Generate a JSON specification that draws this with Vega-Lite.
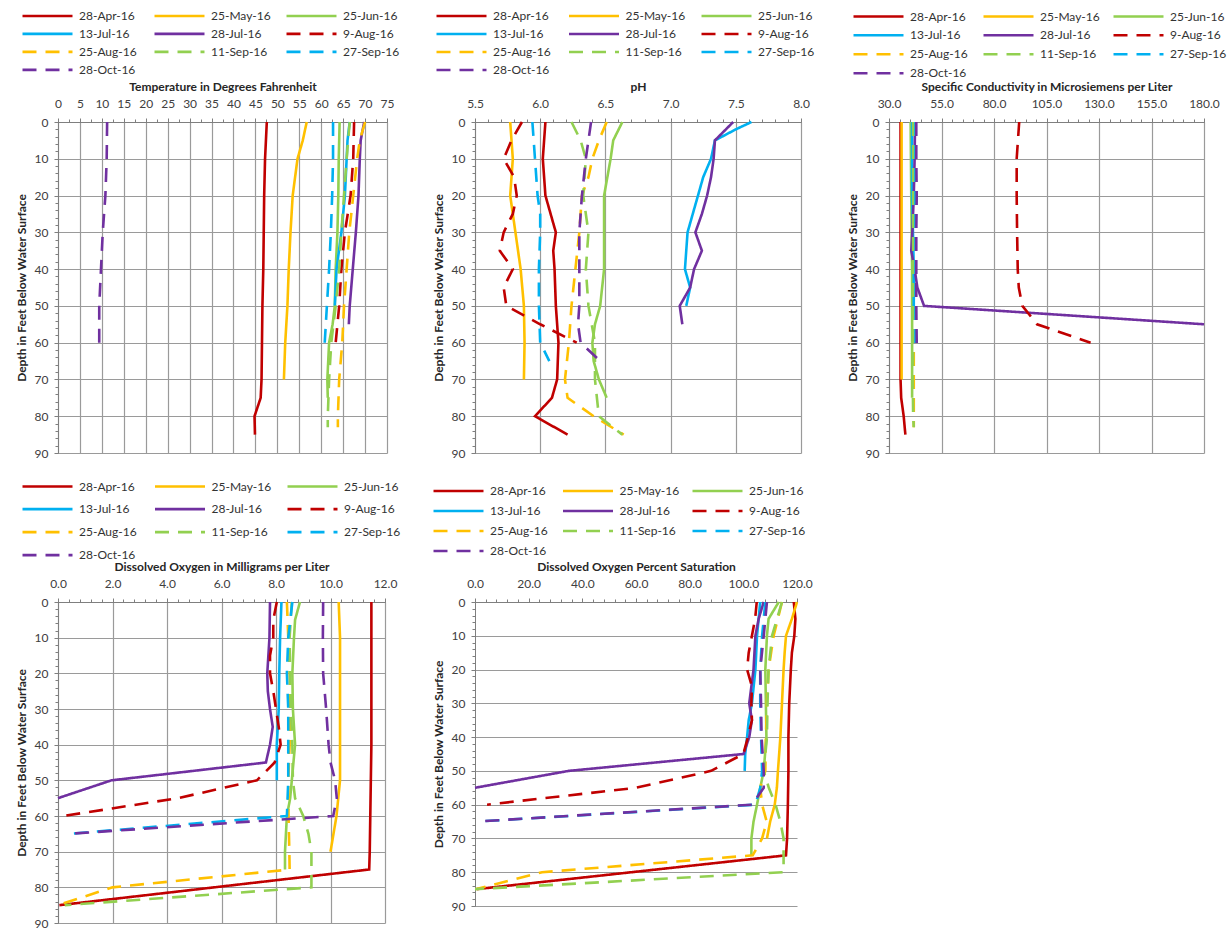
{
"$schema": "https://vega.github.io/schema/vega-lite/v6.json",
"background": "white",
"padding": {"left": 15, "top": 7, "right": 2, "bottom": 2},
"config": {
  "font": "Lato",
  "view": {"stroke": null},
  "axis": {"labelFont": "Lato", "labelFontSize": 12, "labelColor": "#404040", "titleFont": "Lato", "titleFontSize": 12, "titleFontWeight": "bold", "titleColor": "#262626", "gridColor": "#9a9a9a", "gridWidth": 1.2, "domainColor": "#7f7f7f", "tickColor": "#7f7f7f", "tickSize": 4, "grid": true, "labelFlush": false, "labelOverlap": false},
  "axisX": {"labelPadding": 8, "titlePadding": 4},
  "axisY": {"labelPadding": 6, "titlePadding": 6},
  "legend": {"labelFont": "Lato", "labelFontSize": 12, "labelColor": "#333333", "direction": "horizontal"},
  "line": {"strokeWidth": 2.6}
},
"datasets": {
"t": [
{"d":"28-Apr-16","z":0,"v":47.6},{"d":"28-Apr-16","z":10,"v":47.2},{"d":"28-Apr-16","z":20,"v":47.0},{"d":"28-Apr-16","z":30,"v":46.9},{"d":"28-Apr-16","z":40,"v":46.8},{"d":"28-Apr-16","z":50,"v":46.6},{"d":"28-Apr-16","z":60,"v":46.5},{"d":"28-Apr-16","z":70,"v":46.4},{"d":"28-Apr-16","z":75,"v":46.2},{"d":"28-Apr-16","z":80,"v":44.8},{"d":"28-Apr-16","z":85,"v":44.9},
{"d":"25-May-16","z":0,"v":56.7},{"d":"25-May-16","z":5,"v":55.8},{"d":"25-May-16","z":10,"v":54.6},{"d":"25-May-16","z":20,"v":53.5},{"d":"25-May-16","z":30,"v":53.0},{"d":"25-May-16","z":40,"v":52.6},{"d":"25-May-16","z":50,"v":52.3},{"d":"25-May-16","z":60,"v":51.8},{"d":"25-May-16","z":70,"v":51.5},
{"d":"25-Jun-16","z":0,"v":64.2},{"d":"25-Jun-16","z":10,"v":64.0},{"d":"25-Jun-16","z":20,"v":63.9},{"d":"25-Jun-16","z":30,"v":63.7},{"d":"25-Jun-16","z":40,"v":63.3},{"d":"25-Jun-16","z":50,"v":63.1},{"d":"25-Jun-16","z":55,"v":62.6},{"d":"25-Jun-16","z":60,"v":61.8},{"d":"25-Jun-16","z":70,"v":61.4},{"d":"25-Jun-16","z":75,"v":61.5},
{"d":"13-Jul-16","z":0,"v":66.5},{"d":"13-Jul-16","z":5,"v":66.0},{"d":"13-Jul-16","z":10,"v":65.8},{"d":"13-Jul-16","z":20,"v":65.4},{"d":"13-Jul-16","z":30,"v":64.6},{"d":"13-Jul-16","z":40,"v":63.5},{"d":"13-Jul-16","z":50,"v":63.1},
{"d":"28-Jul-16","z":0,"v":69.8},{"d":"28-Jul-16","z":5,"v":69.0},{"d":"28-Jul-16","z":10,"v":68.8},{"d":"28-Jul-16","z":20,"v":68.5},{"d":"28-Jul-16","z":30,"v":67.9},{"d":"28-Jul-16","z":40,"v":67.2},{"d":"28-Jul-16","z":50,"v":66.5},{"d":"28-Jul-16","z":55,"v":66.3},
{"d":"9-Aug-16","z":0,"v":67.5},{"d":"9-Aug-16","z":10,"v":67.3},{"d":"9-Aug-16","z":20,"v":66.7},{"d":"9-Aug-16","z":30,"v":65.4},{"d":"9-Aug-16","z":40,"v":64.6},{"d":"9-Aug-16","z":50,"v":64.1},{"d":"9-Aug-16","z":60,"v":63.3},
{"d":"25-Aug-16","z":0,"v":70.0},{"d":"25-Aug-16","z":5,"v":68.8},{"d":"25-Aug-16","z":10,"v":68.2},{"d":"25-Aug-16","z":20,"v":67.3},{"d":"25-Aug-16","z":30,"v":66.4},{"d":"25-Aug-16","z":40,"v":65.8},{"d":"25-Aug-16","z":50,"v":65.2},{"d":"25-Aug-16","z":60,"v":64.8},{"d":"25-Aug-16","z":70,"v":64.1},{"d":"25-Aug-16","z":80,"v":63.8},{"d":"25-Aug-16","z":83,"v":63.8},
{"d":"11-Sep-16","z":0,"v":66.5},{"d":"11-Sep-16","z":10,"v":65.8},{"d":"11-Sep-16","z":20,"v":65.2},{"d":"11-Sep-16","z":30,"v":64.6},{"d":"11-Sep-16","z":40,"v":64.1},{"d":"11-Sep-16","z":50,"v":63.3},{"d":"11-Sep-16","z":60,"v":62.3},{"d":"11-Sep-16","z":70,"v":61.8},{"d":"11-Sep-16","z":80,"v":61.5},{"d":"11-Sep-16","z":83,"v":61.5},
{"d":"27-Sep-16","z":0,"v":62.7},{"d":"27-Sep-16","z":10,"v":62.7},{"d":"27-Sep-16","z":20,"v":62.5},{"d":"27-Sep-16","z":30,"v":62.2},{"d":"27-Sep-16","z":40,"v":61.8},{"d":"27-Sep-16","z":50,"v":61.3},{"d":"27-Sep-16","z":60,"v":60.8},{"d":"27-Sep-16","z":61,"v":60.8},
{"d":"28-Oct-16","z":0,"v":11.2},{"d":"28-Oct-16","z":10,"v":11.1},{"d":"28-Oct-16","z":20,"v":10.8},{"d":"28-Oct-16","z":30,"v":10.2},{"d":"28-Oct-16","z":40,"v":9.8},{"d":"28-Oct-16","z":50,"v":9.4},{"d":"28-Oct-16","z":60,"v":9.4},{"d":"28-Oct-16","z":61,"v":9.4}
],
"ph": [
{"d":"28-Apr-16","z":0,"v":6.04},{"d":"28-Apr-16","z":10,"v":6.02},{"d":"28-Apr-16","z":20,"v":6.04},{"d":"28-Apr-16","z":25,"v":6.08},{"d":"28-Apr-16","z":30,"v":6.12},{"d":"28-Apr-16","z":35,"v":6.10},{"d":"28-Apr-16","z":40,"v":6.11},{"d":"28-Apr-16","z":50,"v":6.12},{"d":"28-Apr-16","z":60,"v":6.14},{"d":"28-Apr-16","z":70,"v":6.13},{"d":"28-Apr-16","z":75,"v":6.09},{"d":"28-Apr-16","z":80,"v":5.96},{"d":"28-Apr-16","z":85,"v":6.21},
{"d":"25-May-16","z":0,"v":5.77},{"d":"25-May-16","z":10,"v":5.79},{"d":"25-May-16","z":20,"v":5.77},{"d":"25-May-16","z":30,"v":5.81},{"d":"25-May-16","z":40,"v":5.85},{"d":"25-May-16","z":50,"v":5.875},{"d":"25-May-16","z":60,"v":5.88},{"d":"25-May-16","z":70,"v":5.875},
{"d":"25-Jun-16","z":0,"v":6.63},{"d":"25-Jun-16","z":5,"v":6.56},{"d":"25-Jun-16","z":10,"v":6.54},{"d":"25-Jun-16","z":20,"v":6.49},{"d":"25-Jun-16","z":30,"v":6.49},{"d":"25-Jun-16","z":40,"v":6.49},{"d":"25-Jun-16","z":50,"v":6.46},{"d":"25-Jun-16","z":55,"v":6.42},{"d":"25-Jun-16","z":60,"v":6.40},{"d":"25-Jun-16","z":65,"v":6.41},{"d":"25-Jun-16","z":70,"v":6.45},{"d":"25-Jun-16","z":75,"v":6.51},
{"d":"13-Jul-16","z":0,"v":7.62},{"d":"13-Jul-16","z":2,"v":7.50},{"d":"13-Jul-16","z":5,"v":7.34},{"d":"13-Jul-16","z":10,"v":7.31},{"d":"13-Jul-16","z":15,"v":7.25},{"d":"13-Jul-16","z":20,"v":7.21},{"d":"13-Jul-16","z":25,"v":7.17},{"d":"13-Jul-16","z":30,"v":7.13},{"d":"13-Jul-16","z":35,"v":7.12},{"d":"13-Jul-16","z":40,"v":7.11},{"d":"13-Jul-16","z":45,"v":7.15},{"d":"13-Jul-16","z":50,"v":7.12},
{"d":"28-Jul-16","z":0,"v":7.48},{"d":"28-Jul-16","z":5,"v":7.34},{"d":"28-Jul-16","z":10,"v":7.33},{"d":"28-Jul-16","z":15,"v":7.31},{"d":"28-Jul-16","z":20,"v":7.28},{"d":"28-Jul-16","z":25,"v":7.24},{"d":"28-Jul-16","z":30,"v":7.19},{"d":"28-Jul-16","z":35,"v":7.24},{"d":"28-Jul-16","z":40,"v":7.18},{"d":"28-Jul-16","z":45,"v":7.15},{"d":"28-Jul-16","z":50,"v":7.07},{"d":"28-Jul-16","z":55,"v":7.09},
{"d":"9-Aug-16","z":0,"v":5.86},{"d":"9-Aug-16","z":5,"v":5.78},{"d":"9-Aug-16","z":10,"v":5.72},{"d":"9-Aug-16","z":15,"v":5.80},{"d":"9-Aug-16","z":20,"v":5.82},{"d":"9-Aug-16","z":25,"v":5.79},{"d":"9-Aug-16","z":30,"v":5.72},{"d":"9-Aug-16","z":35,"v":5.69},{"d":"9-Aug-16","z":40,"v":5.79},{"d":"9-Aug-16","z":45,"v":5.72},{"d":"9-Aug-16","z":50,"v":5.74},{"d":"9-Aug-16","z":55,"v":6.0},{"d":"9-Aug-16","z":60,"v":6.28},
{"d":"25-Aug-16","z":0,"v":6.51},{"d":"25-Aug-16","z":5,"v":6.45},{"d":"25-Aug-16","z":10,"v":6.40},{"d":"25-Aug-16","z":15,"v":6.37},{"d":"25-Aug-16","z":20,"v":6.32},{"d":"25-Aug-16","z":30,"v":6.30},{"d":"25-Aug-16","z":40,"v":6.27},{"d":"25-Aug-16","z":50,"v":6.24},{"d":"25-Aug-16","z":60,"v":6.22},{"d":"25-Aug-16","z":70,"v":6.19},{"d":"25-Aug-16","z":75,"v":6.21},{"d":"25-Aug-16","z":80,"v":6.41},{"d":"25-Aug-16","z":85,"v":6.64},
{"d":"11-Sep-16","z":0,"v":6.24},{"d":"11-Sep-16","z":5,"v":6.31},{"d":"11-Sep-16","z":10,"v":6.35},{"d":"11-Sep-16","z":20,"v":6.33},{"d":"11-Sep-16","z":30,"v":6.37},{"d":"11-Sep-16","z":40,"v":6.35},{"d":"11-Sep-16","z":50,"v":6.37},{"d":"11-Sep-16","z":60,"v":6.42},{"d":"11-Sep-16","z":70,"v":6.42},{"d":"11-Sep-16","z":80,"v":6.45},{"d":"11-Sep-16","z":85,"v":6.63},
{"d":"27-Sep-16","z":0,"v":5.94},{"d":"27-Sep-16","z":10,"v":5.96},{"d":"27-Sep-16","z":20,"v":5.98},{"d":"27-Sep-16","z":25,"v":6.0},{"d":"27-Sep-16","z":30,"v":6.0},{"d":"27-Sep-16","z":40,"v":5.99},{"d":"27-Sep-16","z":50,"v":5.99},{"d":"27-Sep-16","z":60,"v":6.0},{"d":"27-Sep-16","z":65,"v":6.07},
{"d":"28-Oct-16","z":0,"v":6.39},{"d":"28-Oct-16","z":10,"v":6.35},{"d":"28-Oct-16","z":20,"v":6.32},{"d":"28-Oct-16","z":30,"v":6.30},{"d":"28-Oct-16","z":40,"v":6.30},{"d":"28-Oct-16","z":50,"v":6.30},{"d":"28-Oct-16","z":55,"v":6.29},{"d":"28-Oct-16","z":60,"v":6.31},{"d":"28-Oct-16","z":65,"v":6.46}
],
"sc": [
{"d":"28-Apr-16","z":0,"v":35.5},{"d":"28-Apr-16","z":20,"v":35.5},{"d":"28-Apr-16","z":40,"v":35.5},{"d":"28-Apr-16","z":60,"v":35.5},{"d":"28-Apr-16","z":70,"v":35.5},{"d":"28-Apr-16","z":75,"v":35.8},{"d":"28-Apr-16","z":80,"v":37.0},{"d":"28-Apr-16","z":85,"v":37.8},
{"d":"25-May-16","z":0,"v":36.0},{"d":"25-May-16","z":20,"v":36.0},{"d":"25-May-16","z":40,"v":36.0},{"d":"25-May-16","z":60,"v":36.0},{"d":"25-May-16","z":70,"v":36.0},
{"d":"25-Jun-16","z":0,"v":40.3},{"d":"25-Jun-16","z":20,"v":40.6},{"d":"25-Jun-16","z":40,"v":41.0},{"d":"25-Jun-16","z":60,"v":41.0},{"d":"25-Jun-16","z":75,"v":41.0},
{"d":"13-Jul-16","z":0,"v":41.0},{"d":"13-Jul-16","z":20,"v":41.0},{"d":"13-Jul-16","z":40,"v":41.8},{"d":"13-Jul-16","z":50,"v":41.8},
{"d":"28-Jul-16","z":0,"v":42.4},{"d":"28-Jul-16","z":10,"v":42.2},{"d":"28-Jul-16","z":20,"v":41.8},{"d":"28-Jul-16","z":30,"v":41.1},{"d":"28-Jul-16","z":35,"v":40.6},{"d":"28-Jul-16","z":40,"v":42.2},{"d":"28-Jul-16","z":45,"v":43.5},{"d":"28-Jul-16","z":50,"v":46.7},{"d":"28-Jul-16","z":55,"v":180.0},
{"d":"9-Aug-16","z":0,"v":92.0},{"d":"9-Aug-16","z":10,"v":90.8},{"d":"9-Aug-16","z":20,"v":90.8},{"d":"9-Aug-16","z":30,"v":91.0},{"d":"9-Aug-16","z":40,"v":91.3},{"d":"9-Aug-16","z":45,"v":91.8},{"d":"9-Aug-16","z":50,"v":93.5},{"d":"9-Aug-16","z":55,"v":100.5},{"d":"9-Aug-16","z":60,"v":126.0},
{"d":"25-Aug-16","z":0,"v":41.8},{"d":"25-Aug-16","z":20,"v":41.8},{"d":"25-Aug-16","z":40,"v":41.8},{"d":"25-Aug-16","z":60,"v":41.8},{"d":"25-Aug-16","z":83,"v":41.8},
{"d":"11-Sep-16","z":0,"v":41.5},{"d":"11-Sep-16","z":20,"v":41.5},{"d":"11-Sep-16","z":40,"v":41.5},{"d":"11-Sep-16","z":60,"v":41.5},{"d":"11-Sep-16","z":70,"v":41.3},{"d":"11-Sep-16","z":80,"v":41.5},{"d":"11-Sep-16","z":83,"v":41.8},
{"d":"27-Sep-16","z":0,"v":42.6},{"d":"27-Sep-16","z":20,"v":42.6},{"d":"27-Sep-16","z":40,"v":42.6},{"d":"27-Sep-16","z":60,"v":42.6},{"d":"27-Sep-16","z":61,"v":42.6},
{"d":"28-Oct-16","z":0,"v":43.0},{"d":"28-Oct-16","z":10,"v":43.0},{"d":"28-Oct-16","z":20,"v":43.2},{"d":"28-Oct-16","z":30,"v":43.0},{"d":"28-Oct-16","z":40,"v":43.0},{"d":"28-Oct-16","z":50,"v":43.0},{"d":"28-Oct-16","z":60,"v":43.2},{"d":"28-Oct-16","z":61,"v":43.2}
],
"dom": [
{"d":"28-Apr-16","z":0,"v":11.5},{"d":"28-Apr-16","z":10,"v":11.5},{"d":"28-Apr-16","z":20,"v":11.5},{"d":"28-Apr-16","z":30,"v":11.5},{"d":"28-Apr-16","z":40,"v":11.5},{"d":"28-Apr-16","z":50,"v":11.48},{"d":"28-Apr-16","z":60,"v":11.46},{"d":"28-Apr-16","z":70,"v":11.44},{"d":"28-Apr-16","z":75,"v":11.42},{"d":"28-Apr-16","z":85,"v":0.05},
{"d":"25-May-16","z":0,"v":10.3},{"d":"25-May-16","z":10,"v":10.35},{"d":"25-May-16","z":20,"v":10.35},{"d":"25-May-16","z":30,"v":10.35},{"d":"25-May-16","z":40,"v":10.35},{"d":"25-May-16","z":50,"v":10.35},{"d":"25-May-16","z":60,"v":10.22},{"d":"25-May-16","z":70,"v":10.0},
{"d":"25-Jun-16","z":0,"v":8.88},{"d":"25-Jun-16","z":5,"v":8.7},{"d":"25-Jun-16","z":10,"v":8.66},{"d":"25-Jun-16","z":20,"v":8.6},{"d":"25-Jun-16","z":30,"v":8.62},{"d":"25-Jun-16","z":40,"v":8.7},{"d":"25-Jun-16","z":50,"v":8.58},{"d":"25-Jun-16","z":55,"v":8.52},{"d":"25-Jun-16","z":60,"v":8.4},{"d":"25-Jun-16","z":70,"v":8.33},{"d":"25-Jun-16","z":75,"v":8.33},
{"d":"13-Jul-16","z":0,"v":8.2},{"d":"13-Jul-16","z":10,"v":8.15},{"d":"13-Jul-16","z":20,"v":8.12},{"d":"13-Jul-16","z":30,"v":8.1},{"d":"13-Jul-16","z":40,"v":8.03},{"d":"13-Jul-16","z":50,"v":8.03},
{"d":"28-Jul-16","z":0,"v":7.78},{"d":"28-Jul-16","z":10,"v":7.76},{"d":"28-Jul-16","z":20,"v":7.68},{"d":"28-Jul-16","z":25,"v":7.7},{"d":"28-Jul-16","z":30,"v":7.78},{"d":"28-Jul-16","z":35,"v":7.88},{"d":"28-Jul-16","z":40,"v":7.78},{"d":"28-Jul-16","z":45,"v":7.63},{"d":"28-Jul-16","z":50,"v":1.96},{"d":"28-Jul-16","z":55,"v":0.0},
{"d":"9-Aug-16","z":0,"v":8.03},{"d":"9-Aug-16","z":5,"v":7.9},{"d":"9-Aug-16","z":10,"v":7.9},{"d":"9-Aug-16","z":15,"v":7.78},{"d":"9-Aug-16","z":20,"v":7.78},{"d":"9-Aug-16","z":25,"v":7.9},{"d":"9-Aug-16","z":30,"v":8.0},{"d":"9-Aug-16","z":35,"v":8.1},{"d":"9-Aug-16","z":40,"v":8.17},{"d":"9-Aug-16","z":45,"v":7.95},{"d":"9-Aug-16","z":50,"v":7.3},{"d":"9-Aug-16","z":55,"v":4.4},{"d":"9-Aug-16","z":60,"v":0.2},
{"d":"25-Aug-16","z":0,"v":8.4},{"d":"25-Aug-16","z":10,"v":8.45},{"d":"25-Aug-16","z":20,"v":8.5},{"d":"25-Aug-16","z":30,"v":8.52},{"d":"25-Aug-16","z":40,"v":8.5},{"d":"25-Aug-16","z":50,"v":8.45},{"d":"25-Aug-16","z":60,"v":8.46},{"d":"25-Aug-16","z":70,"v":8.49},{"d":"25-Aug-16","z":75,"v":8.5},{"d":"25-Aug-16","z":80,"v":2.0},{"d":"25-Aug-16","z":85,"v":0.0},
{"d":"11-Sep-16","z":0,"v":8.58},{"d":"11-Sep-16","z":10,"v":8.5},{"d":"11-Sep-16","z":20,"v":8.52},{"d":"11-Sep-16","z":30,"v":8.55},{"d":"11-Sep-16","z":40,"v":8.6},{"d":"11-Sep-16","z":50,"v":8.62},{"d":"11-Sep-16","z":55,"v":8.7},{"d":"11-Sep-16","z":60,"v":9.0},{"d":"11-Sep-16","z":65,"v":9.19},{"d":"11-Sep-16","z":70,"v":9.3},{"d":"11-Sep-16","z":75,"v":9.3},{"d":"11-Sep-16","z":80,"v":9.3},{"d":"11-Sep-16","z":85,"v":0.25},
{"d":"27-Sep-16","z":0,"v":8.6},{"d":"27-Sep-16","z":10,"v":8.45},{"d":"27-Sep-16","z":20,"v":8.4},{"d":"27-Sep-16","z":30,"v":8.45},{"d":"27-Sep-16","z":40,"v":8.45},{"d":"27-Sep-16","z":50,"v":8.45},{"d":"27-Sep-16","z":60,"v":8.4},{"d":"27-Sep-16","z":65,"v":0.4},
{"d":"28-Oct-16","z":0,"v":9.73},{"d":"28-Oct-16","z":10,"v":9.72},{"d":"28-Oct-16","z":20,"v":9.73},{"d":"28-Oct-16","z":30,"v":9.84},{"d":"28-Oct-16","z":40,"v":9.93},{"d":"28-Oct-16","z":45,"v":10.0},{"d":"28-Oct-16","z":50,"v":10.17},{"d":"28-Oct-16","z":55,"v":10.23},{"d":"28-Oct-16","z":60,"v":10.1},{"d":"28-Oct-16","z":65,"v":0.4}
],
"dop": [
{"d":"28-Apr-16","z":0,"v":118.8},{"d":"28-Apr-16","z":5,"v":119.4},{"d":"28-Apr-16","z":10,"v":119.0},{"d":"28-Apr-16","z":15,"v":118.1},{"d":"28-Apr-16","z":20,"v":117.7},{"d":"28-Apr-16","z":30,"v":117.1},{"d":"28-Apr-16","z":40,"v":116.8},{"d":"28-Apr-16","z":50,"v":116.8},{"d":"28-Apr-16","z":60,"v":116.6},{"d":"28-Apr-16","z":70,"v":116.3},{"d":"28-Apr-16","z":75,"v":115.9},{"d":"28-Apr-16","z":85,"v":0.7},
{"d":"25-May-16","z":0,"v":120.0},{"d":"25-May-16","z":5,"v":118.1},{"d":"25-May-16","z":10,"v":115.9},{"d":"25-May-16","z":15,"v":115.4},{"d":"25-May-16","z":20,"v":115.0},{"d":"25-May-16","z":30,"v":114.4},{"d":"25-May-16","z":40,"v":113.8},{"d":"25-May-16","z":50,"v":112.9},{"d":"25-May-16","z":55,"v":112.5},{"d":"25-May-16","z":60,"v":111.7},{"d":"25-May-16","z":65,"v":110.0},{"d":"25-May-16","z":70,"v":108.8},
{"d":"25-Jun-16","z":0,"v":113.2},{"d":"25-Jun-16","z":5,"v":109.4},{"d":"25-Jun-16","z":10,"v":108.8},{"d":"25-Jun-16","z":20,"v":108.2},{"d":"25-Jun-16","z":30,"v":108.4},{"d":"25-Jun-16","z":40,"v":108.6},{"d":"25-Jun-16","z":50,"v":107.6},{"d":"25-Jun-16","z":55,"v":106.3},{"d":"25-Jun-16","z":60,"v":105.1},{"d":"25-Jun-16","z":65,"v":103.8},{"d":"25-Jun-16","z":70,"v":103.0},{"d":"25-Jun-16","z":75,"v":103.0},
{"d":"13-Jul-16","z":0,"v":106.3},{"d":"13-Jul-16","z":10,"v":105.1},{"d":"13-Jul-16","z":20,"v":104.5},{"d":"13-Jul-16","z":30,"v":103.2},{"d":"13-Jul-16","z":35,"v":102.0},{"d":"13-Jul-16","z":40,"v":101.4},{"d":"13-Jul-16","z":45,"v":100.7},{"d":"13-Jul-16","z":50,"v":100.5},
{"d":"28-Jul-16","z":0,"v":107.6},{"d":"28-Jul-16","z":5,"v":105.7},{"d":"28-Jul-16","z":10,"v":104.5},{"d":"28-Jul-16","z":20,"v":103.8},{"d":"28-Jul-16","z":30,"v":102.2},{"d":"28-Jul-16","z":35,"v":103.2},{"d":"28-Jul-16","z":40,"v":102.2},{"d":"28-Jul-16","z":45,"v":100.1},{"d":"28-Jul-16","z":50,"v":34.9},{"d":"28-Jul-16","z":55,"v":0.0},
{"d":"9-Aug-16","z":0,"v":105.0},{"d":"9-Aug-16","z":5,"v":104.4},{"d":"9-Aug-16","z":10,"v":103.2},{"d":"9-Aug-16","z":15,"v":102.0},{"d":"9-Aug-16","z":20,"v":101.4},{"d":"9-Aug-16","z":25,"v":103.2},{"d":"9-Aug-16","z":30,"v":103.0},{"d":"9-Aug-16","z":35,"v":103.2},{"d":"9-Aug-16","z":40,"v":101.7},{"d":"9-Aug-16","z":45,"v":100.0},{"d":"9-Aug-16","z":50,"v":88.0},{"d":"9-Aug-16","z":55,"v":60.0},{"d":"9-Aug-16","z":60,"v":4.5},
{"d":"25-Aug-16","z":0,"v":114.4},{"d":"25-Aug-16","z":10,"v":111.3},{"d":"25-Aug-16","z":20,"v":109.4},{"d":"25-Aug-16","z":30,"v":108.8},{"d":"25-Aug-16","z":40,"v":108.4},{"d":"25-Aug-16","z":50,"v":108.2},{"d":"25-Aug-16","z":55,"v":106.3},{"d":"25-Aug-16","z":60,"v":107.0},{"d":"25-Aug-16","z":65,"v":108.7},{"d":"25-Aug-16","z":70,"v":107.0},{"d":"25-Aug-16","z":75,"v":103.5},{"d":"25-Aug-16","z":80,"v":25.0},{"d":"25-Aug-16","z":85,"v":0.5},
{"d":"11-Sep-16","z":0,"v":114.4},{"d":"11-Sep-16","z":10,"v":110.7},{"d":"11-Sep-16","z":20,"v":109.4},{"d":"11-Sep-16","z":30,"v":109.0},{"d":"11-Sep-16","z":40,"v":108.8},{"d":"11-Sep-16","z":50,"v":107.6},{"d":"11-Sep-16","z":55,"v":109.5},{"d":"11-Sep-16","z":60,"v":112.0},{"d":"11-Sep-16","z":65,"v":113.8},{"d":"11-Sep-16","z":70,"v":115.0},{"d":"11-Sep-16","z":75,"v":115.0},{"d":"11-Sep-16","z":80,"v":115.0},{"d":"11-Sep-16","z":85,"v":0.0},
{"d":"27-Sep-16","z":0,"v":108.2},{"d":"27-Sep-16","z":10,"v":107.0},{"d":"27-Sep-16","z":20,"v":106.3},{"d":"27-Sep-16","z":30,"v":106.3},{"d":"27-Sep-16","z":40,"v":106.6},{"d":"27-Sep-16","z":50,"v":107.0},{"d":"27-Sep-16","z":55,"v":106.3},{"d":"27-Sep-16","z":60,"v":104.5},{"d":"27-Sep-16","z":65,"v":0.7},
{"d":"28-Oct-16","z":0,"v":108.8},{"d":"28-Oct-16","z":10,"v":107.6},{"d":"28-Oct-16","z":20,"v":106.3},{"d":"28-Oct-16","z":30,"v":106.6},{"d":"28-Oct-16","z":40,"v":106.8},{"d":"28-Oct-16","z":50,"v":107.6},{"d":"28-Oct-16","z":55,"v":107.6},{"d":"28-Oct-16","z":60,"v":103.2},{"d":"28-Oct-16","z":65,"v":0.7}
]
},
"columns": 3,
"spacing": {"row": 149, "column": 88},
"bounds": "flush",
"resolve": {"scale": {"x": "independent", "y": "independent", "color": "independent", "strokeDash": "independent"}, "legend": {"color": "independent", "strokeDash": "independent"}},
"concat": [
{
 "width": 329, "height": 331,
 "data": {"name": "t"},
 "layer": [
 {"mark": {"type": "line"},
 "encoding": {
  "x": {"field": "v", "type": "quantitative", "scale": {"domain": [0, 75], "nice": false, "zero": false}, "axis": {"orient": "top", "title": "Temperature in Degrees Fahrenheit", "values": [0,5,10,15,20,25,30,35,40,45,50,55,60,65,70,75], "format": "d"}},
  "y": {"field": "z", "type": "quantitative", "scale": {"domain": [0, 90], "reverse": true, "nice": false}, "axis": {"title": "Depth in Feet Below Water Surface", "values": [0,10,20,30,40,50,60,70,80,90]}},
  "color": {"field": "d", "type": "nominal", "scale": {"domain": ["28-Apr-16","25-May-16","25-Jun-16","13-Jul-16","28-Jul-16","9-Aug-16","25-Aug-16","11-Sep-16","27-Sep-16","28-Oct-16"], "range": ["#C00000","#FFC000","#92D050","#00B0F0","#7030A0","#C00000","#FFC000","#92D050","#00B0F0","#7030A0"]}, "legend": {"title": null, "orient": "none", "legendX": -37, "legendY": -115, "columns": 3, "symbolType": "stroke", "symbolSize": 2500, "symbolStrokeWidth": 3, "clipHeight": 17.8, "rowPadding": 0, "columnPadding": 14, "gridAlign": "all", "labelOffset": 5, "padding": 0}},
  "strokeDash": {"field": "d", "type": "nominal", "scale": {"domain": ["28-Apr-16","25-May-16","25-Jun-16","13-Jul-16","28-Jul-16","9-Aug-16","25-Aug-16","11-Sep-16","27-Sep-16","28-Oct-16"], "range": [[1,0],[1,0],[1,0],[1,0],[1,0],[14,9],[14,9],[14,9],[14,9],[14,9]]}, "legend": {"title": null, "orient": "none", "legendX": -37, "legendY": -115, "columns": 3, "symbolType": "stroke", "symbolSize": 2500, "symbolStrokeWidth": 3, "clipHeight": 17.8, "rowPadding": 0, "columnPadding": 14, "gridAlign": "all", "labelOffset": 5, "padding": 0}},
  "order": {"field": "z", "type": "quantitative"}
 }},
 {"mark": {"type": "point", "opacity": 0},
 "encoding": {
  "x": {"field": "v", "type": "quantitative", "axis": {"orient": "top", "title": null, "labels": false, "grid": false, "domain": false, "tickSize": 3, "values": [0,2.5,5,7.5,10,12.5,15,17.5,20,22.5,25,27.5,30,32.5,35,37.5,40,42.5,45,47.5,50,52.5,55,57.5,60,62.5,65,67.5,70,72.5,75]}},
  "y": {"field": "z", "type": "quantitative", "axis": {"orient": "left", "title": null, "labels": false, "grid": false, "domain": false, "tickSize": 3, "values": [0,2,4,6,8,10,12,14,16,18,20,22,24,26,28,30,32,34,36,38,40,42,44,46,48,50,52,54,56,58,60,62,64,66,68,70,72,74,76,78,80,82,84,86,88,90]}}
 }}
 ],
 "resolve": {"axis": {"x": "independent", "y": "independent"}}
},
{
 "width": 326, "height": 331,
 "data": {"name": "ph"},
 "layer": [
 {"mark": {"type": "line"},
 "encoding": {
  "x": {"field": "v", "type": "quantitative", "scale": {"domain": [5.5, 8.0], "nice": false, "zero": false}, "axis": {"orient": "top", "title": "pH", "values": [5.5,6.0,6.5,7.0,7.5,8.0], "format": ".1f"}},
  "y": {"field": "z", "type": "quantitative", "scale": {"domain": [0, 90], "reverse": true, "nice": false}, "axis": {"title": "Depth in Feet Below Water Surface", "values": [0,10,20,30,40,50,60,70,80,90]}},
  "color": {"field": "d", "type": "nominal", "scale": {"domain": ["28-Apr-16","25-May-16","25-Jun-16","13-Jul-16","28-Jul-16","9-Aug-16","25-Aug-16","11-Sep-16","27-Sep-16","28-Oct-16"], "range": ["#C00000","#FFC000","#92D050","#00B0F0","#7030A0","#C00000","#FFC000","#92D050","#00B0F0","#7030A0"]}, "legend": {"title": null, "orient": "none", "legendX": -40, "legendY": -115, "columns": 3, "symbolType": "stroke", "symbolSize": 2500, "symbolStrokeWidth": 3, "clipHeight": 18, "rowPadding": 0, "columnPadding": 14.5, "gridAlign": "all", "labelOffset": 5, "padding": 0}},
  "strokeDash": {"field": "d", "type": "nominal", "scale": {"domain": ["28-Apr-16","25-May-16","25-Jun-16","13-Jul-16","28-Jul-16","9-Aug-16","25-Aug-16","11-Sep-16","27-Sep-16","28-Oct-16"], "range": [[1,0],[1,0],[1,0],[1,0],[1,0],[14,9],[14,9],[14,9],[14,9],[14,9]]}, "legend": {"title": null, "orient": "none", "legendX": -40, "legendY": -115, "columns": 3, "symbolType": "stroke", "symbolSize": 2500, "symbolStrokeWidth": 3, "clipHeight": 18, "rowPadding": 0, "columnPadding": 14.5, "gridAlign": "all", "labelOffset": 5, "padding": 0}},
  "order": {"field": "z", "type": "quantitative"}
 }},
 {"mark": {"type": "point", "opacity": 0},
 "encoding": {
  "x": {"field": "v", "type": "quantitative", "axis": {"orient": "top", "title": null, "labels": false, "grid": false, "domain": false, "tickSize": 3, "values": [5.5,5.6,5.7,5.8,5.9,6.0,6.1,6.2,6.3,6.4,6.5,6.6,6.7,6.8,6.9,7.0,7.1,7.2,7.3,7.4,7.5,7.6,7.7,7.8,7.9,8.0]}},
  "y": {"field": "z", "type": "quantitative", "axis": {"orient": "left", "title": null, "labels": false, "grid": false, "domain": false, "tickSize": 3, "values": [0,2,4,6,8,10,12,14,16,18,20,22,24,26,28,30,32,34,36,38,40,42,44,46,48,50,52,54,56,58,60,62,64,66,68,70,72,74,76,78,80,82,84,86,88,90]}}
 }}
 ],
 "resolve": {"axis": {"x": "independent", "y": "independent"}}
},
{
 "width": 315, "height": 331,
 "data": {"name": "sc"},
 "layer": [
 {"mark": {"type": "line"},
 "encoding": {
  "x": {"field": "v", "type": "quantitative", "scale": {"domain": [30, 180], "nice": false, "zero": false}, "axis": {"orient": "top", "title": "Specific Conductivity in Microsiemens per Liter", "values": [30,55,80,105,130,155,180], "format": ".1f"}},
  "y": {"field": "z", "type": "quantitative", "scale": {"domain": [0, 90], "reverse": true, "nice": false}, "axis": {"title": "Depth in Feet Below Water Surface", "values": [0,10,20,30,40,50,60,70,80,90]}},
  "color": {"field": "d", "type": "nominal", "scale": {"domain": ["28-Apr-16","25-May-16","25-Jun-16","13-Jul-16","28-Jul-16","9-Aug-16","25-Aug-16","11-Sep-16","27-Sep-16","28-Oct-16"], "range": ["#C00000","#FFC000","#92D050","#00B0F0","#7030A0","#C00000","#FFC000","#92D050","#00B0F0","#7030A0"]}, "legend": {"title": null, "orient": "none", "legendX": -37, "legendY": -115, "columns": 3, "symbolType": "stroke", "symbolSize": 2500, "symbolStrokeWidth": 3, "clipHeight": 18.5, "rowPadding": 0, "columnPadding": 12, "gridAlign": "all", "labelOffset": 5, "padding": 0}},
  "strokeDash": {"field": "d", "type": "nominal", "scale": {"domain": ["28-Apr-16","25-May-16","25-Jun-16","13-Jul-16","28-Jul-16","9-Aug-16","25-Aug-16","11-Sep-16","27-Sep-16","28-Oct-16"], "range": [[1,0],[1,0],[1,0],[1,0],[1,0],[14,9],[14,9],[14,9],[14,9],[14,9]]}, "legend": {"title": null, "orient": "none", "legendX": -37, "legendY": -115, "columns": 3, "symbolType": "stroke", "symbolSize": 2500, "symbolStrokeWidth": 3, "clipHeight": 18.5, "rowPadding": 0, "columnPadding": 12, "gridAlign": "all", "labelOffset": 5, "padding": 0}},
  "order": {"field": "z", "type": "quantitative"}
 }},
 {"mark": {"type": "point", "opacity": 0},
 "encoding": {
  "x": {"field": "v", "type": "quantitative", "axis": {"orient": "top", "title": null, "labels": false, "grid": false, "domain": false, "tickSize": 3, "values": [30,35,40,45,50,55,60,65,70,75,80,85,90,95,100,105,110,115,120,125,130,135,140,145,150,155,160,165,170,175,180]}},
  "y": {"field": "z", "type": "quantitative", "axis": {"orient": "left", "title": null, "labels": false, "grid": false, "domain": false, "tickSize": 3, "values": [0,2,4,6,8,10,12,14,16,18,20,22,24,26,28,30,32,34,36,38,40,42,44,46,48,50,52,54,56,58,60,62,64,66,68,70,72,74,76,78,80,82,84,86,88,90]}}
 }}
 ],
 "resolve": {"axis": {"x": "independent", "y": "independent"}}
},
{
 "width": 327, "height": 321,
 "data": {"name": "dom"},
 "layer": [
 {"mark": {"type": "line"},
 "encoding": {
  "x": {"field": "v", "type": "quantitative", "scale": {"domain": [0, 12], "nice": false, "zero": false}, "axis": {"orient": "top", "title": "Dissolved Oxygen in Milligrams per Liter", "values": [0,2,4,6,8,10,12], "format": ".1f"}},
  "y": {"field": "z", "type": "quantitative", "scale": {"domain": [0, 90], "reverse": true, "nice": false}, "axis": {"title": "Depth in Feet Below Water Surface", "values": [0,10,20,30,40,50,60,70,80,90]}},
  "color": {"field": "d", "type": "nominal", "scale": {"domain": ["28-Apr-16","25-May-16","25-Jun-16","13-Jul-16","28-Jul-16","9-Aug-16","25-Aug-16","11-Sep-16","27-Sep-16","28-Oct-16"], "range": ["#C00000","#FFC000","#92D050","#00B0F0","#7030A0","#C00000","#FFC000","#92D050","#00B0F0","#7030A0"]}, "legend": {"title": null, "orient": "none", "legendX": -37, "legendY": -127, "columns": 3, "symbolType": "stroke", "symbolSize": 2500, "symbolStrokeWidth": 3, "clipHeight": 22.3, "rowPadding": 0, "columnPadding": 14.5, "gridAlign": "all", "labelOffset": 5, "padding": 0}},
  "strokeDash": {"field": "d", "type": "nominal", "scale": {"domain": ["28-Apr-16","25-May-16","25-Jun-16","13-Jul-16","28-Jul-16","9-Aug-16","25-Aug-16","11-Sep-16","27-Sep-16","28-Oct-16"], "range": [[1,0],[1,0],[1,0],[1,0],[1,0],[14,9],[14,9],[14,9],[14,9],[14,9]]}, "legend": {"title": null, "orient": "none", "legendX": -37, "legendY": -127, "columns": 3, "symbolType": "stroke", "symbolSize": 2500, "symbolStrokeWidth": 3, "clipHeight": 22.3, "rowPadding": 0, "columnPadding": 14.5, "gridAlign": "all", "labelOffset": 5, "padding": 0}},
  "order": {"field": "z", "type": "quantitative"}
 }},
 {"mark": {"type": "point", "opacity": 0},
 "encoding": {
  "x": {"field": "v", "type": "quantitative", "axis": {"orient": "top", "title": null, "labels": false, "grid": false, "domain": false, "tickSize": 3, "values": [0,0.4,0.8,1.2,1.6,2,2.4,2.8,3.2,3.6,4,4.4,4.8,5.2,5.6,6,6.4,6.8,7.2,7.6,8,8.4,8.8,9.2,9.6,10,10.4,10.8,11.2,11.6,12]}},
  "y": {"field": "z", "type": "quantitative", "axis": {"orient": "left", "title": null, "labels": false, "grid": false, "domain": false, "tickSize": 3, "values": [0,2,4,6,8,10,12,14,16,18,20,22,24,26,28,30,32,34,36,38,40,42,44,46,48,50,52,54,56,58,60,62,64,66,68,70,72,74,76,78,80,82,84,86,88,90]}}
 }}
 ],
 "resolve": {"axis": {"x": "independent", "y": "independent"}}
},
{
 "width": 322, "height": 304,
 "data": {"name": "dop"},
 "layer": [
 {"mark": {"type": "line"},
 "encoding": {
  "x": {"field": "v", "type": "quantitative", "scale": {"domain": [0, 120], "nice": false, "zero": false}, "axis": {"orient": "top", "title": "Dissolved Oxygen Percent Saturation", "values": [0,20,40,60,80,100,120], "format": ".1f", "grid": false}},
  "y": {"field": "z", "type": "quantitative", "scale": {"domain": [0, 90], "reverse": true, "nice": false}, "axis": {"title": "Depth in Feet Below Water Surface", "values": [0,10,20,30,40,50,60,70,80,90]}},
  "color": {"field": "d", "type": "nominal", "scale": {"domain": ["28-Apr-16","25-May-16","25-Jun-16","13-Jul-16","28-Jul-16","9-Aug-16","25-Aug-16","11-Sep-16","27-Sep-16","28-Oct-16"], "range": ["#C00000","#FFC000","#92D050","#00B0F0","#7030A0","#C00000","#FFC000","#92D050","#00B0F0","#7030A0"]}, "legend": {"title": null, "orient": "none", "legendX": -43, "legendY": -121, "columns": 3, "symbolType": "stroke", "symbolSize": 2500, "symbolStrokeWidth": 3, "clipHeight": 20, "rowPadding": 0, "columnPadding": 11.5, "gridAlign": "all", "labelOffset": 5, "padding": 0}},
  "strokeDash": {"field": "d", "type": "nominal", "scale": {"domain": ["28-Apr-16","25-May-16","25-Jun-16","13-Jul-16","28-Jul-16","9-Aug-16","25-Aug-16","11-Sep-16","27-Sep-16","28-Oct-16"], "range": [[1,0],[1,0],[1,0],[1,0],[1,0],[14,9],[14,9],[14,9],[14,9],[14,9]]}, "legend": {"title": null, "orient": "none", "legendX": -43, "legendY": -121, "columns": 3, "symbolType": "stroke", "symbolSize": 2500, "symbolStrokeWidth": 3, "clipHeight": 20, "rowPadding": 0, "columnPadding": 11.5, "gridAlign": "all", "labelOffset": 5, "padding": 0}},
  "order": {"field": "z", "type": "quantitative"}
 }},
 {"mark": {"type": "point", "opacity": 0},
 "encoding": {
  "x": {"field": "v", "type": "quantitative", "axis": {"orient": "top", "title": null, "labels": false, "grid": false, "domain": false, "tickSize": 3, "values": [0,4,8,12,16,20,24,28,32,36,40,44,48,52,56,60,64,68,72,76,80,84,88,92,96,100,104,108,112,116,120]}},
  "y": {"field": "z", "type": "quantitative", "axis": {"orient": "left", "title": null, "labels": false, "grid": false, "domain": false, "tickSize": 3, "values": [0,2,4,6,8,10,12,14,16,18,20,22,24,26,28,30,32,34,36,38,40,42,44,46,48,50,52,54,56,58,60,62,64,66,68,70,72,74,76,78,80,82,84,86,88,90]}}
 }}
 ],
 "resolve": {"axis": {"x": "independent", "y": "independent"}}
}
]
}
